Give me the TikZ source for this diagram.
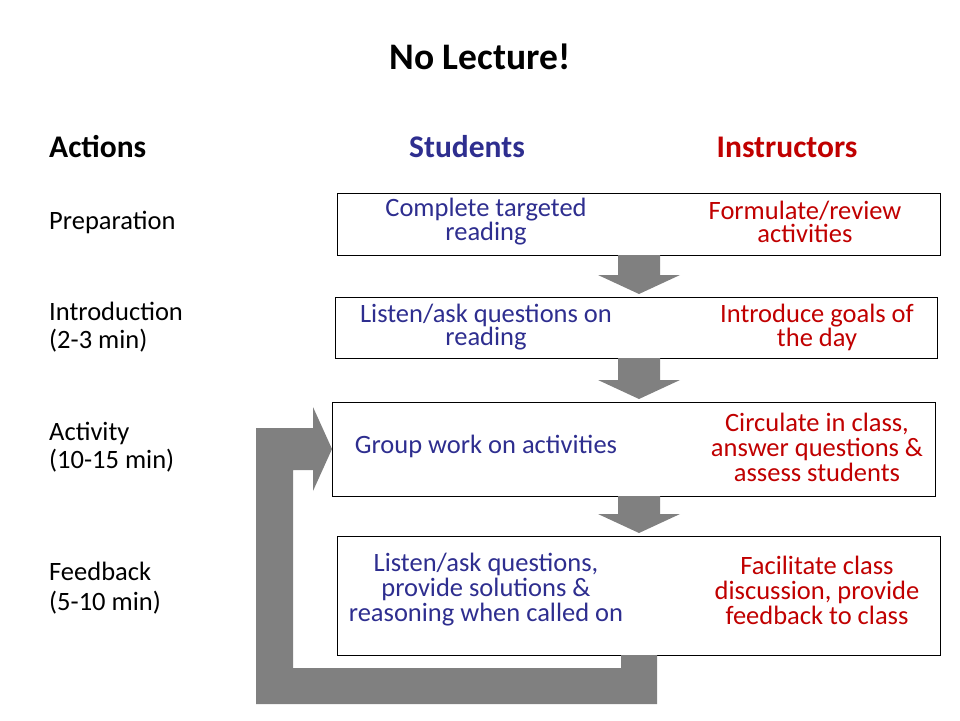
\documentclass[tikz,border=0pt]{standalone}
\usepackage{fontspec}
\setmainfont{Carlito}
\usetikzlibrary{calc}
\definecolor{stublue}{RGB}{46,46,143}
\definecolor{insred}{RGB}{192,0,0}
\definecolor{arrowgray}{RGB}{128,128,128}
\begin{document}
\begin{tikzpicture}[x=1pt,y=-1pt,
  box/.style={draw,line width=1pt,inner sep=0pt,outer sep=0pt},
  stu/.style={text=stublue,align=center,inner sep=0pt,font=\fontsize{26.5}{22.5}\selectfont},
  ins/.style={text=insred,align=center,inner sep=0pt,font=\fontsize{26.5}{22.5}\selectfont},
  lbl/.style={anchor=west,align=left,inner sep=0pt,font=\fontsize{26.5}{28}\selectfont},
  head/.style={inner sep=0pt,font=\fontsize{31.5}{36}\selectfont\bfseries},
  blockarrow/.style={fill=arrowgray}]
\useasboundingbox (0,0) rectangle (960,720);
% Titel
\node[inner sep=0pt,font=\fontsize{37.5}{40}\selectfont\bfseries] (title) at (480,57) {No Lecture!};
% Spalten
\node[head,anchor=west] (hact) at (49,147) {Actions};
\node[head,text=stublue] (hstu) at (467,147) {Students};
\node[head,text=insred] (hins) at (787,147) {Instructors};
% Phasen
\node[lbl] (lprep) at (49,222) {Preparation};
\node[lbl] (lintro) at (49,327) {Introduction\\(2-3 min)};
\node[lbl] (lact) at (49,447) {Activity\\(10-15 min)};
\node[lbl,font=\fontsize{26.5}{30}\selectfont] (lfeed) at (49,588) {Feedback\\(5-10 min)};
% Kaesten
\node[box,minimum width=603,minimum height=62] (b1) at (638.5,224) {};
\node[box,minimum width=602,minimum height=61] (b2) at (636,327.5) {};
\node[box,minimum width=603,minimum height=94] (b3) at (633.5,449) {};
\node[box,minimum width=603,minimum height=119] (b4) at (638.5,595.5) {};
% Studierende / Lehrende
\node[stu] (s1) at (486,222) {Complete targeted\\reading};
\node[ins] (i1) at (805,222) {Formulate/review\\activities};
\node[stu] (s2) at (486,327) {Listen/ask questions on\\reading};
\node[ins] (i2) at (817,327) {Introduce goals of\\the day};
\node[stu] (s3) at (486,446) {Group work on activities};
\node[ins,font=\fontsize{26.5}{25}\selectfont] (i3) at (817,447) {Circulate in class,\\answer questions \&\\assess students};
\node[stu,font=\fontsize{26.5}{25}\selectfont] (s4) at (486,590) {Listen/ask questions,\\provide solutions \&\\reasoning when called on};
\node[ins,font=\fontsize{26.5}{25}\selectfont] (i4) at (817,590) {Facilitate class\\discussion, provide\\feedback to class};
% Pfeile nach unten
\coordinate (ax) at (639,0);
\foreach \u/\v in {b1/b2,b2/b3,b3/b4}{
  \coordinate (t) at (ax |- \u.south);
  \coordinate (h) at ($(ax |- \v.north)+(0,-3)$);
  \fill[blockarrow] ($(t)+(-21,0)$) -- ($(t)+(21,0)$) -- ($(h)+(21,-19)$) -- ($(h)+(41,-19)$)
    -- (h) -- ($(h)+(-41,-19)$) -- ($(h)+(-21,-19)$) -- cycle;
}
% Rueckfuehrung
\coordinate (rp) at (ax |- b4.south);
\coordinate (lp) at (b3.west);
\fill[blockarrow] ($(rp)+(-18,0)$) -- ($(rp)+(-18,13)$) -- ($(lp)+(-39,219)$) -- ($(lp)+(-39,21)$)
  -- ($(lp)+(-19,21)$) -- ($(lp)+(-19,42)$) -- (lp) -- ($(lp)+(-19,-42)$) -- ($(lp)+(-19,-21)$)
  -- ($(lp)+(-76,-21)$) -- ($(lp)+(-76,255)$) -- ($(rp)+(18,49)$) -- ($(rp)+(18,0)$) -- cycle;
\end{tikzpicture}
\end{document}
